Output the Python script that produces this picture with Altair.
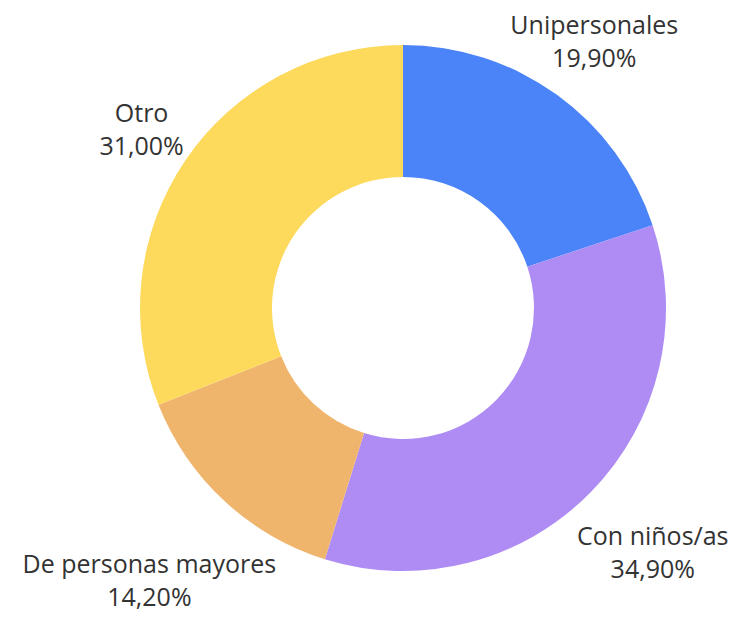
import altair as alt
import pandas as pd

categories = ["Unipersonales", "Con niños/as", "De personas mayores", "Otro"]
values = [19.9, 34.9, 14.2, 31.0]
pct_labels = ["19,90%", "34,90%", "14,20%", "31,00%"]
colors = ["#4b84f8", "#ae8cf4", "#f0b56d", "#fdd95c"]

df = pd.DataFrame({
    "cat": categories,
    "value": values,
    "pct": pct_labels,
    "order": list(range(len(categories))),
})

cx, cy = 395, 300
R_OUT, R_IN = 263, 131
LINE_H = 33

arc = alt.Chart(df).mark_arc(innerRadius=R_IN, outerRadius=R_OUT).encode(
    theta=alt.Theta("value:Q", stack=True),
    order=alt.Order("order:Q"),
    color=alt.Color("cat:N", scale=alt.Scale(domain=categories, range=colors), legend=None),
    x=alt.value(cx),
    y=alt.value(cy),
)

text = alt.Chart(df).transform_window(
    cum="sum(value)", sort=[alt.SortField("order")]
).transform_calculate(
    mid="(datum.cum - datum.value/2) / 100 * 2 * PI",
    label="datum.cat + '\\n' + datum.pct",
    maxlen="max(length(datum.cat), length(datum.pct))",
).transform_calculate(
    labelR="297 + 5.2 * datum.maxlen * abs(sin(datum.mid)) - 12 * cos(datum.mid)"
).transform_calculate(
    lx=f"{cx} + datum.labelR * sin(datum.mid)",
    ly=f"{cy} - datum.labelR * cos(datum.mid)",
).mark_text(
    font="Open Sans", fontSize=25, color="#333333", lineBreak="\n",
    lineHeight=LINE_H, align="center", baseline="middle", dy=-LINE_H / 2,
).encode(
    x=alt.X("lx:Q", scale=None),
    y=alt.Y("ly:Q", scale=None),
    text="label:N",
)

chart = alt.layer(arc, text).properties(
    width=721, height=601, autosize=alt.AutoSizeParams(type="none"), padding=0
).configure_view(stroke=None)

chart.save("out.html", embed_options={"renderer": "svg", "actions": False})
